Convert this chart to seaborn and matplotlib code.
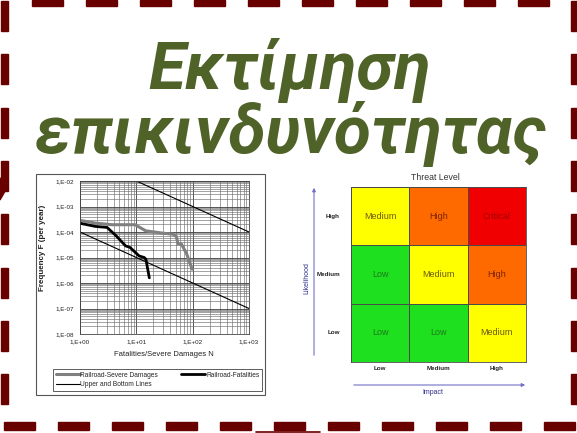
import numpy as np
import pandas as pd
import matplotlib
matplotlib.use('Agg')
import matplotlib.pyplot as plt
import seaborn as sns
from matplotlib.colors import ListedColormap
from matplotlib.patches import Rectangle, Polygon, FancyArrowPatch
from matplotlib.lines import Line2D
from matplotlib.ticker import LogLocator, FuncFormatter, NullFormatter

# ---- data ----
title_lines = ['Εκτίμηση', 'επικινδυνότητας']

upper_n = [10, 1000]
upper_f = [1e-2, 1e-4]
lower_n = [1, 1000]
lower_f = [1e-4, 1e-7]

severe_n = [1, 1.86, 3.7, 9.5, 14.7, 29.5, 44.6, 51.3, 55, 63, 77.5, 98]
severe_f = [2.86e-4, 2.24e-4, 1.93e-4, 1.93e-4, 1.11e-4, 9.0e-5, 8.2e-5, 6.7e-5, 3.4e-5, 3.4e-5, 1.46e-5, 3.5e-6]

fatal_n = [1, 1.86, 3.02, 4.38, 6.45, 7.7, 11.2, 13.8, 14.8, 17]
fatal_f = [2.2e-4, 1.66e-4, 1.51e-4, 7.1e-5, 2.85e-5, 2.5e-5, 1.15e-5, 1.0e-5, 8.5e-6, 1.6e-6]

legend_labels = ['Railroad-Severe Damages', 'Railroad-Fatalities', 'Upper and Bottom Lines']

impact_levels = ['Low', 'Medium', 'High']
likelihood_levels = ['High', 'Medium', 'Low']
threat = [['Medium', 'High', 'Critical'],
          ['Low', 'Medium', 'High'],
          ['Low', 'Low', 'Medium']]
threat_order = ['Low', 'Medium', 'High', 'Critical']

# ---- figure ----
W, H = 577, 433
sns.set_theme(style='white')
plt.rcParams['font.family'] = ['Liberation Sans', 'DejaVu Sans']
fig = plt.figure(figsize=(W / 100, H / 100), dpi=100)
fig.patch.set_facecolor('white')


def px(x0, y0, x1, y1):
    return [x0 / W, 1 - y1 / H, (x1 - x0) / W, (y1 - y0) / H]


def fx(x):
    return x / W


def fy(y):
    return 1 - y / H


# dashed slide border
red = '#690000'
for k in range(10):
    x = 32 + 54 * k
    fig.patches.append(Rectangle((fx(x), fy(6)), 31 / W, 6 / H, color=red, transform=fig.transFigure))
for k in range(11):
    x = 4 + 54 * k
    fig.patches.append(Rectangle((fx(x), fy(430)), 31 / W, 8 / H, color=red, transform=fig.transFigure))
for k in range(8):
    y = 1 + 53.3 * k
    fig.patches.append(Rectangle((fx(1), fy(y + 30)), 7 / W, 30 / H, color=red, transform=fig.transFigure))
    fig.patches.append(Rectangle((fx(571), fy(y + 30)), 6 / W, 30 / H, color=red, transform=fig.transFigure))
fig.patches.append(Polygon([(fx(0), fy(178)), (fx(8), fy(186)), (fx(0), fy(200))],
                           color=red, transform=fig.transFigure))
fig.add_artist(Line2D([fx(256), fx(320)], [fy(432), fy(432)], color=red, lw=1.2))

# title
green = '#4f6228'
title_font = ['Roboto', 'Liberation Sans', 'DejaVu Sans']
fig.text(fx(290), fy(89), title_lines[0], ha='center', va='baseline', fontsize=48.5,
         fontweight='bold', fontstyle='italic', color=green, family=title_font)
fig.text(fx(291), fy(153), title_lines[1], ha='center', va='baseline', fontsize=48.5,
         fontweight='bold', fontstyle='italic', color=green, family=title_font)

# ---- F-N chart ----
fig.patches.append(Rectangle((fx(36), fy(395)), 229 / W, 221 / H, fill=False,
                             edgecolor='#555555', lw=0.8, transform=fig.transFigure))
ax1 = fig.add_axes(px(80, 181, 249, 334))
ax1.set_xscale('log')
ax1.set_yscale('log')
sns.lineplot(x=upper_n, y=upper_f, ax=ax1, color='black', lw=0.8, sort=False, estimator=None)
sns.lineplot(x=lower_n, y=lower_f, ax=ax1, color='black', lw=0.8, sort=False, estimator=None)
sns.lineplot(x=severe_n, y=severe_f, ax=ax1, color='#808080', lw=2.2, sort=False, estimator=None)
sns.lineplot(x=fatal_n, y=fatal_f, ax=ax1, color='black', lw=2.0, sort=False, estimator=None)
ax1.set_xlim(1, 1000)
ax1.set_ylim(1e-8, 1e-2)
ax1.xaxis.set_major_locator(LogLocator(base=10, numticks=10))
ax1.yaxis.set_major_locator(LogLocator(base=10, numticks=10))
ax1.xaxis.set_minor_locator(LogLocator(base=10, subs=np.arange(2, 10), numticks=20))
ax1.yaxis.set_minor_locator(LogLocator(base=10, subs=np.arange(2, 10), numticks=20))
fmt = FuncFormatter(lambda v, p: '1,E%+03d' % int(round(np.log10(v))))
ax1.xaxis.set_major_formatter(fmt)
ax1.yaxis.set_major_formatter(fmt)
ax1.xaxis.set_minor_formatter(NullFormatter())
ax1.yaxis.set_minor_formatter(NullFormatter())
ax1.tick_params(which='both', length=0, labelsize=4.5, pad=4, colors='#222222')
ax1.grid(which='major', color='#3a3a3a', lw=0.6)
ax1.grid(which='minor', color='#707070', lw=0.45)
for s in ax1.spines.values():
    s.set_color('#444444')
    s.set_linewidth(0.6)
ax1.set_xlabel('')
ax1.set_ylabel('')
fig.text(fx(164), fy(355), 'Fatalities/Severe Damages N', ha='center', va='center',
         fontsize=5.5, color='#222222')
fig.text(fx(42), fy(248), 'Frequency F (per year)', ha='center', va='center', rotation=90,
         fontsize=5.8, fontweight='bold', color='#222222')

handles = [Line2D([], [], color='#808080', lw=2.2),
           Line2D([], [], color='black', lw=0.8),
           Line2D([], [], color='black', lw=2.0)]
labels = [legend_labels[0], legend_labels[2], legend_labels[1]]
leg = ax1.legend(handles, labels, ncol=2, loc='upper left', mode='expand',
                 bbox_to_anchor=(fx(53), fy(396), 209 / W, 27 / H), bbox_transform=fig.transFigure,
                 fontsize=4.8, frameon=True, fancybox=False, edgecolor='#333333',
                 handlelength=3.6, handletextpad=0.1, borderaxespad=0, labelspacing=0.4,
                 borderpad=0.4)
leg.get_frame().set_linewidth(0.7)

# ---- risk matrix ----
ax2 = fig.add_axes(px(351, 187, 526, 362))
codes = pd.DataFrame([[threat_order.index(c) for c in row] for row in threat],
                     index=likelihood_levels, columns=impact_levels)
cmap = ListedColormap(['#1ee01e', '#ffff00', '#ff6a00', '#f00000'])
sns.heatmap(codes, ax=ax2, cmap=cmap, vmin=-0.5, vmax=3.5, cbar=False,
            annot=np.array(threat), fmt='', linewidths=0.6, linecolor='#4a4a4a',
            annot_kws={'fontsize': 6.5})
text_colors = {'Low': '#1c7a1c', 'Medium': '#6a5810', 'High': '#7a2200', 'Critical': '#a80000'}
for t in ax2.texts:
    t.set_color(text_colors[t.get_text()])
for s in ax2.spines.values():
    s.set_visible(True)
    s.set_color('#4a4a4a')
    s.set_linewidth(0.6)
ax2.tick_params(length=0, labelsize=4.5, colors='#222222')
ax2.set_xticklabels(impact_levels, fontweight='bold')
ax2.set_yticklabels(likelihood_levels, rotation=0, fontweight='bold')
ax2.tick_params(axis='x', pad=3)
ax2.tick_params(axis='y', pad=8)
ax2.set_xlabel('')
ax2.set_ylabel('')

navy = '#2e2e8a'
fig.text(fx(435), fy(177), 'Threat Level', ha='center', va='center', fontsize=6.3, color='#333333')
fig.text(fx(433), fy(392), 'Impact', ha='center', va='center', fontsize=5, color=navy)
fig.text(fx(307), fy(278), 'Likelihood', ha='center', va='center', rotation=90, fontsize=5, color=navy)
fig.add_artist(FancyArrowPatch((fx(351), fy(385)), (fx(528), fy(385)),
                               transform=fig.transFigure, arrowstyle='-|>',
                               mutation_scale=5, color='#7070c8', lw=0.8))
fig.add_artist(FancyArrowPatch((fx(314), fy(358)), (fx(314), fy(185)),
                               transform=fig.transFigure, arrowstyle='-|>',
                               mutation_scale=5, color='#7070c8', lw=0.8))

fig.savefig('out.png', dpi=100)
